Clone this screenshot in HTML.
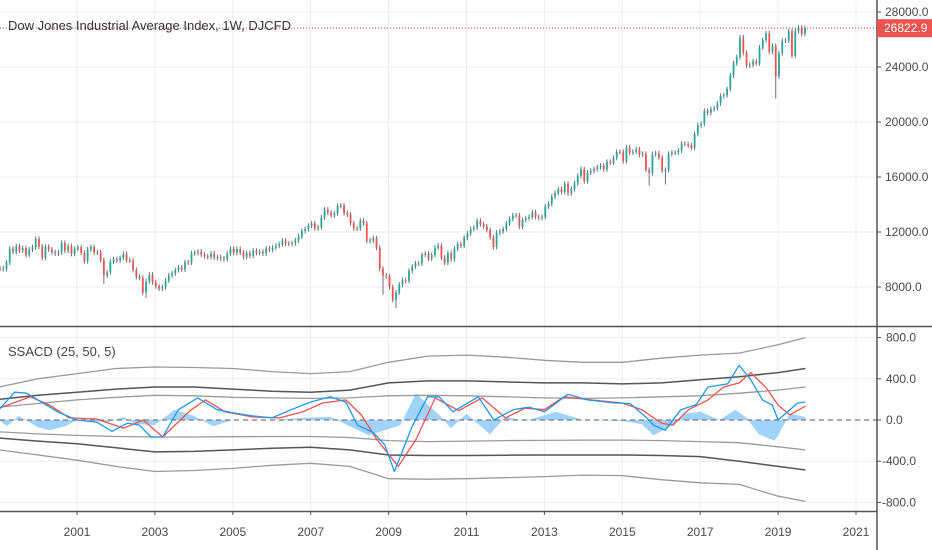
<!DOCTYPE html>
<html><head><meta charset="utf-8">
<style>
html,body{margin:0;padding:0;background:#fff;}
svg{display:block;font-family:"Liberation Sans",sans-serif;}
</style></head>
<body>
<svg id="chart" width="932" height="550" viewBox="0 0 932 550" xmlns="http://www.w3.org/2000/svg">
  <rect x="0" y="0" width="932" height="550" fill="#ffffff"/>
  <g id="grid"></g>
  <g id="price"></g>
  <g id="osc"></g>
  <g id="axes"></g>
</svg>
<script>
// ---- data ----
const priceStartYear = 1999.0;
const monthlyCloses = [
9359,9307,9786,10789,10560,10971,10655,10829,10337,10729,10878,11497,
10941,10128,10922,10734,10522,10448,10522,11215,10651,10971,10415,10787,
10887,10495,9879,10735,10912,10502,10523,9950,8848,9075,9852,10021,
9920,10106,10404,9946,9925,9243,8737,8664,7592,8397,8896,8342,
8054,7891,7992,8480,8850,8985,9234,9416,9275,9801,9782,10454,
10488,10584,10358,10226,10188,10435,10140,10174,10080,10027,10428,10783,
10490,10766,10504,10193,10467,10275,10641,10482,10569,10440,10806,10718,
10865,10993,11109,11367,11168,11150,11186,11381,11679,12081,12221,12463,
12622,12269,12354,13063,13628,13409,13212,13358,13896,13930,13372,13265,
12650,12266,12263,12820,12638,11350,11378,11544,10851,9325,8829,8776,
8001,7063,7609,8168,8500,8447,9172,9496,9712,9713,10345,10428,
10067,10325,10857,11009,10137,9774,10466,10015,10788,11118,11006,11578,
11892,12226,12320,12811,12570,12414,12143,11614,10913,11955,12046,12218,
12633,12952,13212,13214,12393,12880,13009,13091,13437,13096,13026,13104,
13861,14054,14579,14840,15116,14910,15500,14810,15130,15546,16086,16577,
15699,16322,16458,16581,16717,16827,16563,17098,17043,17391,17828,17823,
17165,18133,17776,17841,18011,17620,17690,16528,16285,17664,17720,17425,
16466,16517,17685,17774,17787,17930,18432,18401,18308,18142,19124,19763,
19864,20812,20663,20941,21009,21350,21891,21948,22405,23377,24272,24719,
26149,25029,24103,24163,24416,24271,25415,25965,26458,25116,25538,23327,
25000,25916,25929,26593,24815,26600,26864,26403,26822.9
];
const monthlyLows = {2001.67:8235, 2002.75:7197, 2009.17:6470, 2018.92:21700, 2016.08:15450, 2015.67:15370, 2008.83:7450};
const lastPrice = 26822.9;
const priceTicks = [8000,12000,16000,20000,24000,28000];
const oscTicks = [-800,-400,0,400,800];
const yearTicks = [2001,2003,2005,2007,2009,2011,2013,2015,2017,2019,2021];

const bandYears = [1999,2000,2001,2002,2003,2004,2005,2006,2007,2008,2009,2010,2011,2012,2013,2014,2015,2016,2017,2018,2019,2019.7];
const outerUpper = [320,400,450,500,515,510,500,470,450,470,560,620,630,610,580,560,560,600,630,650,730,800];
const midUpper   = [200,240,270,300,320,320,300,280,270,290,360,380,380,370,360,360,350,360,390,420,460,500];
const innerUpper = [125,160,195,220,240,235,220,215,210,215,235,240,235,225,215,210,215,225,235,260,290,320];
const innerLower = [-115,-135,-150,-160,-165,-165,-162,-160,-160,-170,-200,-210,-205,-200,-198,-195,-195,-200,-210,-220,-260,-290];
const midLower   = [-175,-205,-230,-270,-310,-305,-290,-275,-265,-290,-340,-345,-345,-342,-340,-340,-340,-345,-355,-400,-450,-485];
const outerLower = [-290,-340,-390,-450,-500,-490,-470,-440,-420,-450,-570,-575,-570,-560,-550,-535,-540,-580,-610,-625,-740,-790];

const blueYears = [1999.0,1999.4,1999.7,2000.0,2000.5,2001.0,2001.5,2001.9,2002.3,2002.6,2002.9,2003.2,2003.6,2004.1,2004.6,2005.0,2005.5,2006.0,2006.5,2007.0,2007.5,2007.9,2008.2,2008.6,2008.9,2009.15,2009.6,2010.0,2010.3,2010.65,2011.3,2011.7,2012.2,2012.6,2013.0,2013.6,2014.1,2014.8,2015.2,2015.6,2015.8,2016.1,2016.5,2016.9,2017.2,2017.7,2018.0,2018.3,2018.6,2018.85,2019.0,2019.3,2019.5,2019.7];
const blueValues = [100,270,260,195,80,0,-20,-110,-30,-50,-165,-165,100,215,100,70,40,20,100,175,225,175,-50,-120,-240,-500,-65,225,225,80,225,0,100,125,80,250,195,165,160,30,-50,-100,100,150,320,350,530,390,195,145,0,100,165,175];

const redYears = [1999.0,1999.8,2000.3,2000.8,2001.5,2002.2,2002.7,2003.2,2003.9,2004.3,2004.8,2005.5,2006.2,2006.8,2007.3,2007.9,2008.3,2008.7,2009.25,2009.7,2010.2,2010.8,2011.4,2012.0,2012.5,2013.0,2013.5,2014.2,2015.0,2015.5,2016.0,2016.3,2016.7,2017.2,2017.6,2018.0,2018.3,2018.7,2019.0,2019.3,2019.7];
const redValues = [115,225,145,20,10,-80,0,-165,90,195,80,30,20,80,165,195,50,-190,-450,-190,215,90,215,20,115,100,225,195,165,100,-30,-50,100,195,320,360,460,310,145,50,135];

const histYears = [1999.0,1999.2,1999.5,2000.0,2000.3,2000.7,2001.0,2001.8,2002.2,2002.5,2003.0,2003.5,2004.0,2004.5,2005.0,2006.0,2006.8,2007.5,2008.0,2008.5,2008.9,2009.3,2009.7,2010.0,2010.3,2010.6,2011.0,2011.6,2012.0,2012.5,2013.3,2014.0,2015.0,2015.5,2015.8,2016.3,2016.6,2017.0,2017.5,2017.9,2018.2,2018.5,2018.9,2019.0,2019.3,2019.7];
const histValues = [0,-60,40,-70,-100,-60,0,-20,30,-40,-50,100,40,-60,0,0,20,30,-60,-150,-100,-50,260,150,50,-80,60,-140,30,-10,80,0,-10,-40,-150,-50,60,80,0,100,20,-140,-200,-150,60,30];

// ---- scales ----
const X0 = 77, PX_PER_YEAR = 38.95;
function xOf(year){ return X0 + (year - 2001) * PX_PER_YEAR; }
function yPrice(v){ return 287 - (v - 8000) * 0.01375; }
function yOsc(v){ return 420 - v * 0.103; }

const NS = "http://www.w3.org/2000/svg";
function mk(tag, attrs, parent){
  const e = document.createElementNS(NS, tag);
  for (const k in attrs) e.setAttribute(k, attrs[k]);
  parent.appendChild(e);
  return e;
}
const grid = document.getElementById('grid');
const price = document.getElementById('price');
const osc = document.getElementById('osc');
const axes = document.getElementById('axes');

// grid
yearTicks.forEach(yr => {
  const x = xOf(yr);
  const l = mk('line', {x1:x, x2:x, y1:0, y2:511, stroke:'#eceef2', 'stroke-width':1}, grid);
  
  
});
priceTicks.forEach(v => {
  const y = yPrice(v);
  const l = mk('line', {x1:0, x2:877, y1:y, y2:y, stroke:'#eceef2', 'stroke-width':1}, grid);
  
  
});
oscTicks.forEach(v => {
  const y = yOsc(v);
  const l = mk('line', {x1:0, x2:877, y1:y, y2:y, stroke:'#eceef2', 'stroke-width':1}, grid);
  
  
});

// candles (open = previous close)
const lowKeys = Object.keys(monthlyLows).map(Number);
for (let i = 0; i < monthlyCloses.length; i++) {
  const t = priceStartYear + i / 12;
  const x = xOf(t);
  const c = monthlyCloses[i];
  const o = i > 0 ? monthlyCloses[i-1] : c;
  const up = c >= o;
  const y1 = yPrice(Math.max(o, c)), y2 = yPrice(Math.min(o, c));
  let low = y2 + 2.5;
  lowKeys.forEach(k => { if (Math.abs(k - t) < 0.042) low = yPrice(monthlyLows[k]); });
  const w = mk('line', {x1:x+0.9, x2:x+0.9, y1:y1-2.5, y2:low, stroke:'#5d606b', 'stroke-width':0.9}, price);
  
  
  const b = mk('rect', {x:x, y:y1, width:1.8, height:Math.max(1, y2-y1), fill: up ? '#26a69a' : '#ef5350'}, price);
  
  
}

// last price line
const lp = mk('line', {x1:0, x2:877, y1:yPrice(lastPrice), y2:yPrice(lastPrice), stroke:'#e53935', 'stroke-width':1, 'stroke-dasharray':'1 2'}, price);



// oscillator pane
function poly(years, vals, color, width, name){
  const pts = years.map((yr, i) => xOf(yr).toFixed(1) + ',' + yOsc(vals[i]).toFixed(1)).join(' ');
  const p = mk('polyline', {points:pts, fill:'none', stroke:color, 'stroke-width':width, 'stroke-linejoin':'round'}, osc);
  
  
}
{
  let d = 'M' + xOf(histYears[0]) + ',' + yOsc(0);
  histYears.forEach((yr, i) => { d += ' L' + xOf(yr).toFixed(1) + ',' + yOsc(histValues[i]).toFixed(1); });
  d += ' L' + xOf(histYears[histYears.length-1]) + ',' + yOsc(0) + ' Z';
  const h = mk('path', {d:d, fill:'#90caf9', 'fill-opacity':0.85, stroke:'none'}, osc);
  
  
}
const zl = mk('line', {x1:0, x2:877, y1:yOsc(0), y2:yOsc(0), stroke:'#787b86', 'stroke-width':1.3, 'stroke-dasharray':'5 4'}, osc);


poly(bandYears, outerUpper, '#9a9a9a', 1.3, 'outer-upper-band');
poly(bandYears, midUpper, '#555555', 1.5, 'middle-upper-band');
poly(bandYears, innerUpper, '#9a9a9a', 1.3, 'inner-upper-band');
poly(bandYears, innerLower, '#9a9a9a', 1.3, 'inner-lower-band');
poly(bandYears, midLower, '#555555', 1.5, 'middle-lower-band');
poly(bandYears, outerLower, '#9a9a9a', 1.3, 'outer-lower-band');
poly(redYears, redValues, '#ef5350', 1.3, 'signal-line');
poly(blueYears, blueValues, '#2196f3', 1.3, 'ssacd-line');

// axes
function line(a, name){ const l = mk('line', a, axes);   return l; }
line({x1:877, x2:877, y1:0, y2:550, stroke:'#50535e', 'stroke-width':1.5}, 'price-axis-border');
line({x1:0, x2:932, y1:326.5, y2:326.5, stroke:'#50535e', 'stroke-width':1.5}, 'pane-separator');
line({x1:0, x2:877, y1:511.5, y2:511.5, stroke:'#50535e', 'stroke-width':1.5}, 'time-axis-border');
function text(x, y, s, attrs, name){
  const t = mk('text', Object.assign({x:x, y:y, 'font-size':12, fill:'#4a4a4a'}, attrs), axes);
  t.textContent = s;
  
  
  return t;
}
priceTicks.forEach(v => {
  const y = yPrice(v);
  line({x1:877, x2:881, y1:y, y2:y, stroke:'#50535e'}, 'price-tick');
  text(885, y+4, v.toFixed(1), {}, 'price-tick-label');
});
oscTicks.forEach(v => {
  const y = yOsc(v);
  line({x1:877, x2:881, y1:y, y2:y, stroke:'#50535e'}, 'osc-tick');
  text(v < 0 ? 882 : 886, y+4, v.toFixed(1), {}, 'osc-tick-label');
});
yearTicks.forEach(yr => {
  const x = xOf(yr);
  line({x1:x, x2:x, y1:511, y2:515, stroke:'#50535e'}, 'year-tick');
  text(x, 536, String(yr), {'text-anchor':'middle'}, 'year-tick-label');
});
const lbl = mk('rect', {x:877, y:yPrice(lastPrice)-9, width:55, height:18, fill:'#ef5350'}, axes);


text(884, yPrice(lastPrice)+4, lastPrice.toFixed(1), {fill:'#ffffff'}, 'last-price-value');
text(8, 30, 'Dow Jones Industrial Average Index, 1W, DJCFD', {'font-size':13, fill:'#333'}, 'chart-title');
text(8, 356, 'SSACD (25, 50, 5)', {'font-size':13, fill:'#444'}, 'indicator-title');
</script>
</body></html>
